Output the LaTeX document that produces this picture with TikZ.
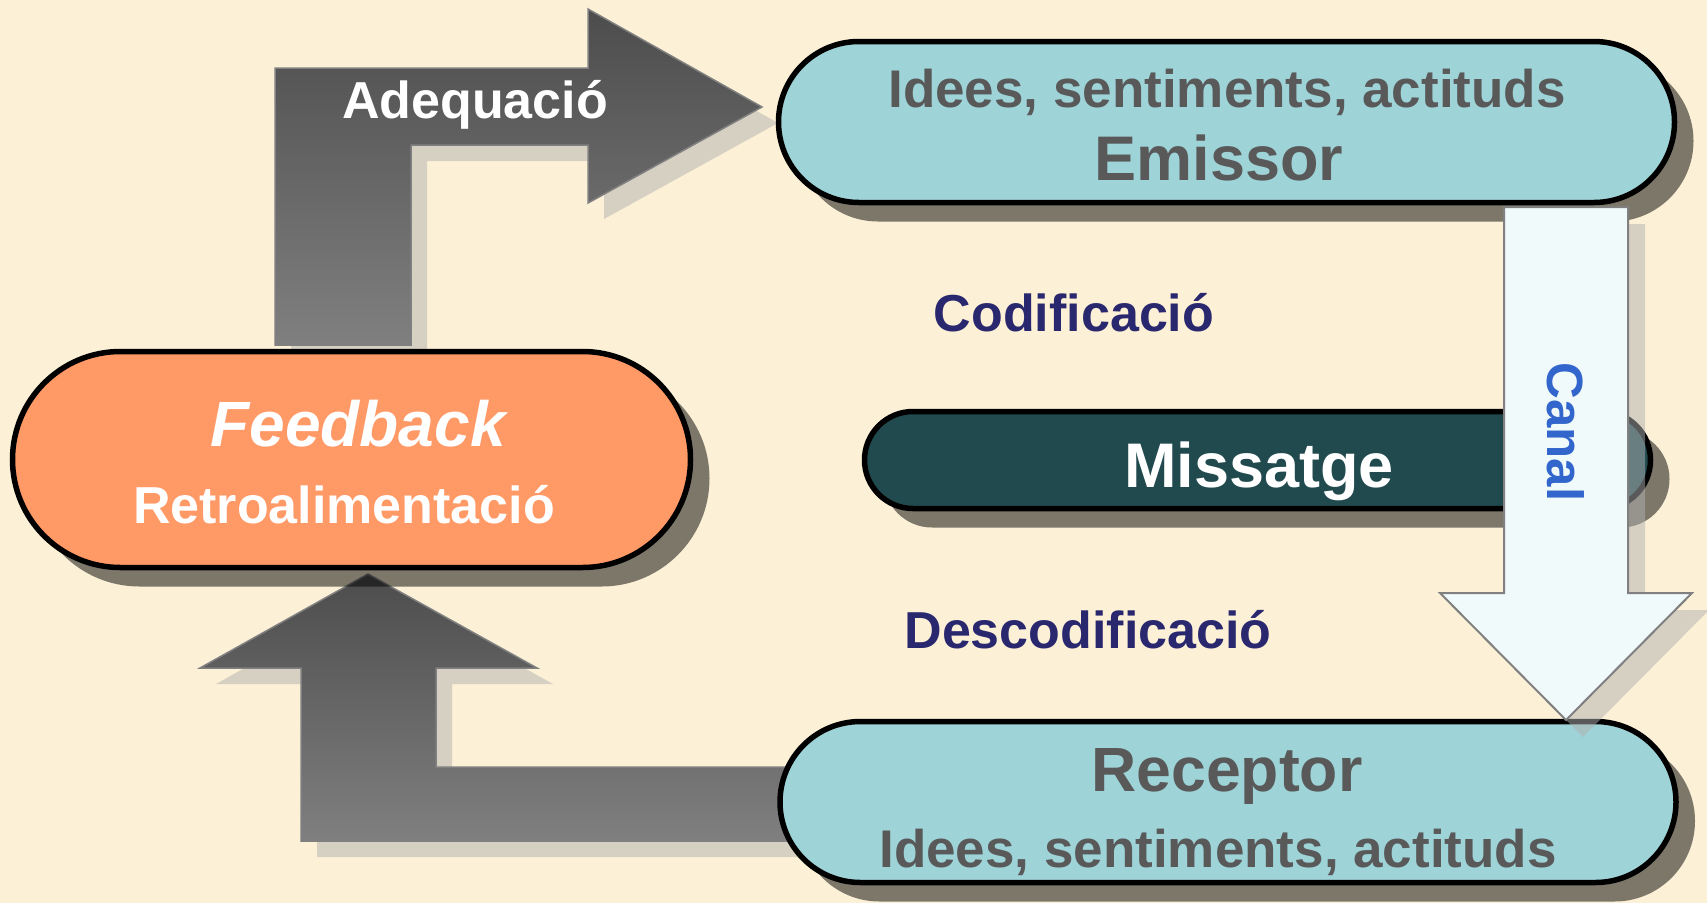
\documentclass[tikz,border=0pt]{standalone}
\usepackage{fontspec}
\setmainfont{Liberation Sans}
\usetikzlibrary{shapes.misc,shadows}
\definecolor{fons}{HTML}{FCF0D6}
\definecolor{celeste}{HTML}{9ED3D8}
\definecolor{salmo}{HTML}{FF9966}
\definecolor{verdfosc}{HTML}{214A4F}
\definecolor{gristext}{HTML}{595959}
\definecolor{blaufosc}{HTML}{29286F}
\definecolor{blaucanal}{HTML}{3366CC}
\definecolor{canalfons}{HTML}{F0FAFA}
\newcommand{\mida}[1]{\fontsize{#1}{#1}\selectfont\bfseries}
\tikzset{
  pill/.style={rounded rectangle, draw=black, line width=5.5pt, inner sep=0pt, outer sep=0pt,
    drop shadow={shadow xshift=19pt, shadow yshift=-19pt, fill=black, opacity=0.5}},
  fletxa/.style={draw=black!50, line width=1.5pt, top color=black!70, bottom color=black!50,
    drop shadow={shadow xshift=16pt, shadow yshift=-16pt, fill=black!30, opacity=0.5}},
  fletxacanal/.style={draw=black!50, line width=2pt, fill=canalfons,
    drop shadow={shadow xshift=17pt, shadow yshift=-17pt, fill=black!30, opacity=0.5}},
  txt/.style={anchor=base, inner sep=0pt, outer sep=0pt}
}
\begin{document}
\begin{tikzpicture}[x=1pt,y=-1pt]
    \fill[fons] (0,0) rectangle (1707,903); %Fons
    \useasboundingbox (0,0) rectangle (1707,903);
    \draw[fletxa] (275,345) -- (275,68) -- (588,68) -- (588,9) -- (762,107) -- (588,203) -- (588,145) -- (411,145) -- (411,345) -- cycle; %Fletxa adequacio
    \draw[fletxa] (368,574) -- (537,668) -- (436,668) -- (436,767) -- (790,767) -- (790,841) -- (301,841) -- (301,668) -- (200,668) -- cycle; %Fletxa feedback
    \node[pill, fill=celeste, minimum width=896pt, minimum height=161pt] (emissor) at (1226.5,122) {}; %Emissor
    \node[pill, fill=celeste, minimum width=896pt, minimum height=161pt] (receptor) at (1228,802) {}; %Receptor
    \node[pill, fill=salmo, minimum width=678pt, minimum height=216pt] (feedback) at (351.5,459.5) {}; %Feedback
    \node[pill, fill=verdfosc, minimum width=786pt, minimum height=97pt] (missatge) at (1257.5,460) {}; %Missatge
    \node[txt, text=gristext, font=\mida{53}] (emissorA) at (1227,107) {Idees, sentiments, actituds};
    \node[txt, text=gristext, font=\mida{63}] (emissorB) at (1219,180) {Emissor};
    \node[txt, text=gristext, font=\mida{62.5}] (receptorA) at (1227,791) {Receptor};
    \node[txt, text=gristext, font=\mida{53}] (receptorB) at (1218,867) {Idees, sentiments, actituds};
    \node[txt, text=white, font=\mida{64}\itshape] (feedbackA) at (358,446) {Feedback};
    \node[txt, text=white, font=\mida{52}] (feedbackB) at (344,523) {Retroalimentació};
    \node[txt, text=white, font=\mida{52}] (adequacio) at (475,118) {Adequació};
    \node[txt, text=white, font=\mida{63}] (missatgeT) at (1259,487) {Missatge};
    \node[txt, text=blaufosc, font=\mida{52}] (codif) at (1074,331) {Codificació};
    \node[txt, text=blaufosc, font=\mida{52}] (descodif) at (1088,648) {Descodificació};
    \draw[fletxacanal] (1504,207) -- (1628,207) -- (1628,593) -- (1692,593) -- (1566,720) -- (1440,593) -- (1504,593) -- cycle; %Fletxa canal
    \node[txt, text=blaucanal, font=\mida{51}, rotate=-90] (canal) at (1547,432) {Canal};
\end{tikzpicture}
\end{document}
